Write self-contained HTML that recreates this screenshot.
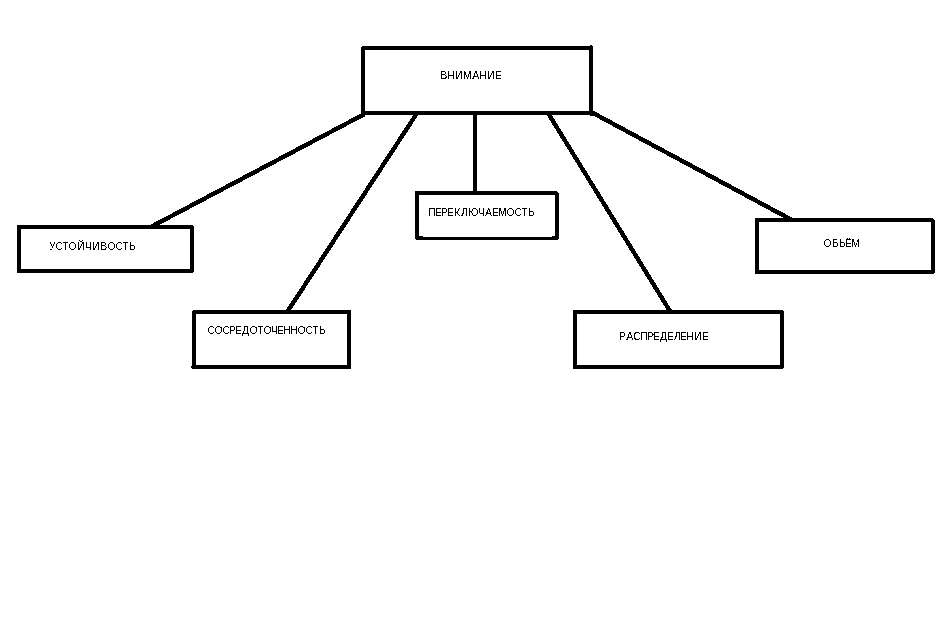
<!DOCTYPE html>
<html lang="ru">
<head>
<meta charset="utf-8">
<title>Внимание</title>
<style>
html,body{margin:0;padding:0;background:#fff;}
body{width:945px;height:627px;overflow:hidden;position:relative;}
svg{position:absolute;left:0;top:0;display:block;}
text{font-family:"Liberation Sans",sans-serif;font-size:11px;fill:#000;}
</style>
</head>
<body>
<svg width="945" height="627" viewBox="0 0 945 627">
<defs>
<filter id="crisp" x="0" y="0" width="945" height="627" filterUnits="userSpaceOnUse" color-interpolation-filters="sRGB">
<feComponentTransfer><feFuncA type="discrete" tableValues="0 0 0 0 0 0 0 0 0 1 1 1 1 1 1 1 1 1 1 1"/></feComponentTransfer>
</filter>
</defs>
<rect x="0" y="0" width="945" height="627" fill="#fff"/>
<g fill="none" stroke="#000" stroke-width="4.4" stroke-linecap="butt" shape-rendering="crispEdges">
<line x1="364.5" y1="114.05" x2="151" y2="226.85"/>
<line x1="417.1" y1="113" x2="287.2" y2="312"/>
<line x1="548" y1="113" x2="670.5" y2="312"/>
<line x1="591.5" y1="112.2" x2="791" y2="219.5"/>
</g>
<g fill="#000" shape-rendering="crispEdges">
<rect x="473" y="113" width="4" height="80"/>
<path fill-rule="evenodd" d="M361 46H593V115H361Z M365 50V111H589V50Z M17 225H194V273H17Z M21 229V269H190V229Z M192 310H351V369H192Z M196 314V365H347V314Z M415 191H559V240H415Z M419 195V236H555V195Z M573 310H784V369H573Z M577 314V365H780V314Z M755 218H935V274H755Z M759 222V270H931V222Z"/>
<rect x="191" y="366" width="1" height="2"/>
<rect x="419" y="236" width="4" height="1"/>
<rect x="552" y="236" width="3" height="1"/>
<rect x="590" y="45" width="2" height="1"/>
<rect x="590" y="115" width="3" height="1"/>
</g>
<g fill="#fff" shape-rendering="crispEdges">
<rect x="423" y="236" width="129" height="1"/>
<rect x="361" y="46" width="1" height="1"/>
<rect x="193" y="272" width="1" height="1"/>
<rect x="192" y="310" width="1" height="1"/>
<rect x="415" y="239" width="1" height="1"/>
<rect x="558" y="239" width="1" height="1"/>
<rect x="783" y="368" width="1" height="1"/>
<rect x="934" y="273" width="1" height="1"/>
<rect x="193" y="225" width="1" height="1"/>
<rect x="557" y="191" width="2" height="1"/>
<rect x="558" y="192" width="1" height="1"/>
<rect x="783" y="310" width="1" height="1"/>
<rect x="933" y="218" width="2" height="1"/>
<rect x="934" y="219" width="1" height="1"/>
</g>
<g filter="url(#crisp)">
<text transform="scale(0.96 1)" x="458.542 465.833 474.167 482.188 491.875 499.167 507.5 515.521" y="79">ВНИМАНИЕ</text>
<text transform="scale(0.94 1)" x="52.128 58.936 66.17 72.766 82.128 90.319 98.085 106.596 114.255 122.766 130 137.447" y="250">УСТОЙЧИВОСТЬ</text>
<text transform="scale(0.95 1)" x="218.316 225.684 234.105 240.947 247.263 254.632 262.526 270.737 277.263 285.158 291.474 298.105 305.474 313.053 321.474 328.632 335.684" y="334">СОСРЕДОТОЧЕННОСТЬ</text>
<text transform="scale(0.91 1)" x="470.549 478.242 484.835 491.429 499.121 506.813 514.505 525.495 533.187 540.879 547.473 556.484 565.275 572.967 580.44" y="216">ПЕРЕКЛЮЧАЕМОСТЬ</text>
<text transform="scale(0.96 1)" x="644.688 652.292 659.583 666.875 673.854 680.104 687.396 694.688 701.979 708.229 714.792 723.125 731.146" y="340">РАСПРЕДЕЛЕНИЕ</text>
<text transform="scale(0.9 1)" x="915.222 924.667 932.444 939.111 946" y="247">ОБЬЁМ</text>
</g>
</svg>
</body>
</html>
